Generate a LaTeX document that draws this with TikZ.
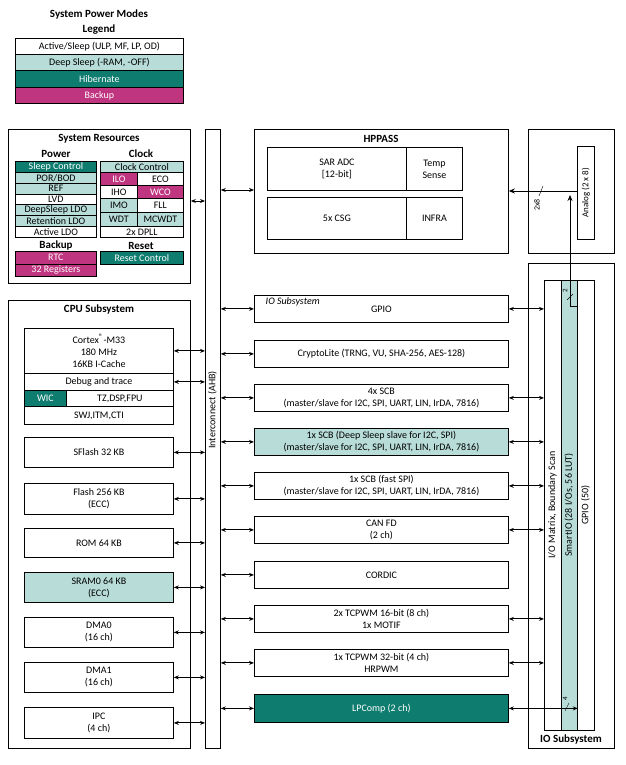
\documentclass[tikz,border=0pt]{standalone}
\usepackage{fontspec}
\setmainfont{Carlito}
\usetikzlibrary{arrows.meta,calc,positioning}
\definecolor{ltteal}{HTML}{B8DDD9}
\definecolor{dkteal}{HTML}{0E7C6E}
\definecolor{mgnta}{HTML}{C0357F}
\tikzset{
    boxsty/.style={draw,rectangle,anchor=north west,inner sep=0pt,align=center,font=\fontsize{10}{12}\selectfont},
    ltsty/.style={boxsty,fill=ltteal},
    tlsty/.style={boxsty,fill=dkteal,text=white},
    mgsty/.style={boxsty,fill=mgnta,text=white},
    whsty/.style={boxsty,fill=white},
    titlesty/.style={font=\bfseries\fontsize{11}{13}\selectfont},
    rotsty/.style={rotate=90,font=\fontsize{10}{12}\selectfont},
    linksty/.style={{Stealth[length=5pt,width=4pt]}-{Stealth[length=5pt,width=4pt]},line width=1pt},
}
% box from corner (x,y) with width w and height h
\newcommand{\bx}[6]{\node[#1,minimum width=#4,minimum height=#5] (#2) at (#3) {#6};}
\begin{document}
\begin{tikzpicture}[x=1pt,y=-1pt,line width=0.8pt]
  \useasboundingbox (0,0) rectangle (625,765);
  % legend
  \node[titlesty] (lgt) at (99,15) {System Power Modes};
  \node[titlesty] (lgl) at (99,30) {Legend};
  \bx{whsty}{la}{15,38}{168}{16}{Active/Sleep (ULP, MF, LP, OD)}
  \bx{ltsty}{lb}{15,54}{168}{16}{Deep Sleep (-RAM, -OFF)}
  \bx{tlsty}{lc}{15,70}{168}{17}{Hibernate}
  \bx{mgsty}{ld}{15,87}{168}{16}{Backup}

  % system resources
  \node[draw,anchor=north west,minimum width=182,minimum height=154] (sres) at (8,129) {};
  \node[titlesty] at (99,139) {System Resources};
  \node[titlesty] at (56,154) {Power};
  \node[titlesty] at (141,154) {Clock};
  \bx{tlsty}{p1}{15,161}{81}{11}{Sleep Control}
  \bx{ltsty}{p2}{15,172}{81}{11}{POR/BOD}
  \bx{ltsty}{p3}{15,183}{81}{10.5}{REF}
  \bx{whsty}{p4}{15,193.5}{81}{10.5}{LVD}
  \bx{ltsty}{p5}{15,204}{81}{11}{DeepSleep LDO}
  \bx{ltsty}{p6}{15,215}{81}{11}{Retention LDO}
  \bx{whsty}{p7}{15,226}{81}{11}{Active LDO}
  \bx{ltsty}{c1}{100,161}{83}{11}{Clock Control}
  \bx{mgsty}{c2}{100,172}{37}{13}{ILO}
  \bx{whsty}{c3}{137,172}{46}{13}{ECO}
  \bx{whsty}{c4}{100,185}{37}{13}{IHO}
  \bx{mgsty}{c5}{137,185}{46}{13}{WCO}
  \bx{ltsty}{c6}{100,198}{37}{14}{IMO}
  \bx{whsty}{c7}{137,198}{46}{14}{FLL}
  \bx{ltsty}{c8}{100,212}{37}{14}{WDT}
  \bx{ltsty}{c9}{137,212}{46}{14}{MCWDT}
  \bx{whsty}{c10}{100,226}{83}{11}{2x DPLL}
  \node[titlesty] at (56,246) {Backup};
  \node[titlesty] at (141,246) {Reset};
  \bx{mgsty}{b1}{15,251}{81}{12.5}{RTC}
  \bx{mgsty}{b2}{15,263.5}{81}{12.5}{32 Registers}
  \bx{tlsty}{r1}{100,251}{83}{13}{Reset Control}

  % interconnect
  \node[draw,anchor=north west,minimum width=15,minimum height=619] (ahb) at (205,129) {};
  \node[rotsty] at (212.5,410) {Interconnect (AHB)};
  \draw[linksty] (sres.east |- 0,201) -- (ahb.west |- 0,201);

  % cpu subsystem
  \node[draw,anchor=north west,minimum width=182,minimum height=448] (cpuss) at (8,300) {};
  \node[titlesty] at (99,310) {CPU Subsystem};
  \bx{whsty}{cm}{24,328}{149}{45}{Cortex\textsuperscript{\footnotesize\textregistered}-M33\\180 MHz\\16KB I-Cache}
  \bx{whsty}{dbg}{24,373}{149}{17}{Debug and trace}
  \bx{tlsty}{wic}{24,390}{42}{16}{WIC}
  \bx{whsty}{tz}{66,390}{107}{16}{TZ,DSP,FPU}
  \bx{whsty}{swj}{24,406}{149}{18}{SWJ,ITM,CTI}
  \bx{whsty}{sfl}{24,437}{149}{30}{SFlash 32 KB}
  \bx{whsty}{fl}{24,483}{149}{31}{Flash 256 KB\\(ECC)}
  \bx{whsty}{rom}{24,528}{149}{29}{ROM 64 KB}
  \bx{ltsty}{sram}{24,572}{149}{30}{SRAM0 64 KB\\(ECC)}
  \bx{whsty}{dma0}{24,617}{149}{30}{DMA0\\(16 ch)}
  \bx{whsty}{dma1}{24,662}{149}{30}{DMA1\\(16 ch)}
  \bx{whsty}{ipc}{24,707}{149}{31}{IPC\\(4 ch)}
  \foreach \n in {cm,dbg,sfl,fl,rom,sram,dma0,dma1,ipc}
    \draw[linksty] (\n.east) -- (\n.east -| ahb.west);

  % hppass
  \node[draw,anchor=north west,minimum width=254,minimum height=124] (hpp) at (254,129) {};
  \node[titlesty] at (381,139) {HPPASS};
  \bx{whsty}{sar}{267,147}{139}{43}{SAR ADC\\{[}12-bit{]}}
  \bx{whsty}{tmp}{406,147}{56}{43}{Temp\\Sense}
  \bx{whsty}{csg}{267,197}{139}{42}{5x CSG}
  \bx{whsty}{infra}{406,197}{56}{42}{INFRA}
  \draw[linksty] (ahb.east |- 0,190) -- (hpp.west |- 0,190);

  % analog
  \node[draw,anchor=north west,minimum width=86,minimum height=124] (anab) at (528,129) {};
  \bx{whsty}{ana}{577,146}{17}{93}{}
  \node[rotate=90,font=\fontsize{9}{11}\selectfont] at (ana.center) {Analog (2 x 8)};

  % io subsystem
  \node[draw,anchor=north west,minimum width=86,minimum height=485] (iobox) at (528,263) {};
  \node[titlesty] at (571,739) {IO Subsystem};
  \bx{whsty}{iom}{544,280}{50}{450}{}
  \bx{ltsty}{sio}{561,280}{16}{450}{}
  \node[rotsty] at (552.5,505) {I/O Matrix, Boundary Scan};
  \node[rotsty] at (569,505) {SmartIO (28 I/Os, 56 LUT)};
  \node[rotsty] at (585.5,505) {GPIO (50)};

  % analog routing
  \coordinate (anin) at (577,191);
  \draw[-{Stealth[length=6pt,width=5pt]},line width=1pt] (anin) -- (hpp.east |- anin);
  \draw[thin] (539,196) -- (543,186);
  \node[rotate=90,font=\fontsize{8}{9}\selectfont] at (537,205) {2x8};
  \coordinate (sioout) at (577,306);
  \draw[-{Stealth[length=6pt,width=5pt]}] (sioout) -- (570,306) -- (570,195);
  \draw[thin] (567,300) -- (573,294);
  \node[rotate=90,font=\fontsize{7}{8}\selectfont] at (565,291) {2};

  % peripherals
  \bx{whsty}{gpio}{254,295}{254}{27}{GPIO}
  \node[font=\itshape\fontsize{10}{12}\selectfont,anchor=west] at (262,302) {IO Subsystem};
  \bx{whsty}{cry}{254,340}{254}{27}{CryptoLite (TRNG, VU, SHA-256, AES-128)}
  \bx{whsty}{scb4}{254,384}{254}{27}{4x SCB\\(master/slave for I2C, SPI, UART, LIN, IrDA, 7816)}
  \bx{ltsty}{scbds}{254,428}{254}{27}{1x SCB (Deep Sleep slave for I2C, SPI)\\(master/slave for I2C, SPI, UART, LIN, IrDA, 7816)}
  \bx{whsty}{scbf}{254,472}{254}{27}{1x SCB (fast SPI)\\(master/slave for I2C, SPI, UART, LIN, IrDA, 7816)}
  \bx{whsty}{can}{254,516}{254}{27}{CAN FD\\(2 ch)}
  \bx{whsty}{cord}{254,561}{254}{27}{CORDIC}
  \bx{whsty}{tcp}{254,605}{254}{27}{2x TCPWM 16-bit (8 ch)\\1x MOTIF}
  \bx{whsty}{tcp32}{254,649}{254}{27}{1x TCPWM 32-bit (4 ch)\\HRPWM}
  \bx{tlsty}{lpc}{254,694}{254}{28}{LPComp (2 ch)}
  \foreach \n in {gpio,cry,scb4,scbds,scbf,can,cord,tcp,tcp32,lpc}
    \draw[linksty] (\n.west -| ahb.east) -- (\n.west);
  \foreach \n in {gpio,scb4,scbds,scbf,can,tcp,tcp32}
    \draw[linksty] (\n.east) -- (\n.east -| iom.west);
  \draw[linksty] (lpc.east) -- (lpc.east -| sio.east);
  \draw[thin] (565,711) -- (569,703);
  \node[rotate=90,font=\fontsize{7}{8}\selectfont] at (565,699) {4};
\end{tikzpicture}
\end{document}
